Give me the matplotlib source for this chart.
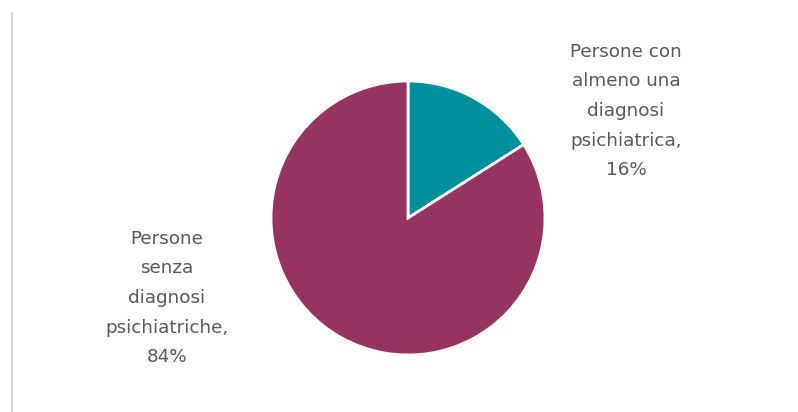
import matplotlib
matplotlib.use("Agg")
import matplotlib.pyplot as plt
from matplotlib.lines import Line2D

categories = ["Persone con\nalmeno una\ndiagnosi\npsichiatrica", "Persone\nsenza\ndiagnosi\npsichiatriche"]
values = [16, 84]
colors = ["#008F9C", "#963360"]

plt.rcParams['font.family'] = ['DejaVu Sans']

W, H = 798, 412
fig = plt.figure(figsize=(W/100, H/100), dpi=100)
cx, cy, r = 408, 218, 137
ax = fig.add_axes([(cx - r)/W, (H - cy - r)/H, 2*r/W, 2*r/H])
wedges, _ = ax.pie(values, colors=colors, startangle=90, counterclock=False,
                   wedgeprops=dict(edgecolor="white", linewidth=2))
ax.set_xlim(-1, 1)
ax.set_ylim(-1, 1)
ax.set_aspect("equal")
ax.axis("off")

label_pos = [(626, 111), (167, 298)]
for cat, val, (x, y) in zip(categories, values, label_pos):
    fig.text(x/W, 1 - y/H, f"{cat},\n{val}%", ha="center", va="center",
             fontsize=13.2, color="#595959", linespacing=1.83)

fig.add_artist(Line2D([12/W, 12/W], [0, 1 - 13/H], color="#d9d9d9", linewidth=1.5))

fig.savefig("out.png", dpi=100)
